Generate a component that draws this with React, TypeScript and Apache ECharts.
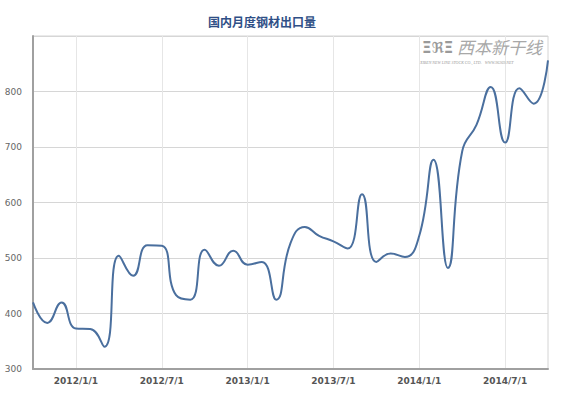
import React, { useEffect, useRef } from "react";
import * as echarts from "echarts";

const categories: string[] = [
  "2011/10/1", "2011/11/1", "2011/12/1",
  "2012/1/1", "2012/2/1", "2012/3/1", "2012/4/1", "2012/5/1", "2012/6/1",
  "2012/7/1", "2012/8/1", "2012/9/1", "2012/10/1", "2012/11/1", "2012/12/1",
  "2013/1/1", "2013/2/1", "2013/3/1", "2013/4/1", "2013/5/1", "2013/6/1",
  "2013/7/1", "2013/8/1", "2013/9/1", "2013/10/1", "2013/11/1", "2013/12/1",
  "2014/1/1", "2014/2/1", "2014/3/1", "2014/4/1", "2014/5/1", "2014/6/1",
  "2014/7/1", "2014/8/1", "2014/9/1", "2014/10/1",
];

const exportVolume: number[] = [
  420, 383, 420,
  373, 372, 340, 504, 468, 523,
  522, 433, 425, 515, 486, 513,
  488, 493, 425, 527, 556, 540,
  530, 517, 615, 493, 508, 502,
  540, 677, 482, 692, 740, 808,
  708, 806, 778, 856,
];

const titleText = "国内月度钢材出口量";
const yTicks = { min: 300, max: 900, interval: 100 };

export default function App() {
  const ref = useRef<HTMLDivElement>(null);
  useEffect(() => {
    if (!ref.current) return;
    const chart = echarts.init(ref.current, undefined, { renderer: "svg" });
    const showIdx = (i: number) => i >= 3 && (i - 3) % 6 === 0;
    chart.setOption({
      animation: false,
      backgroundColor: "#ffffff",
      title: {
        text: titleText,
        left: 203,
        top: 10,
        textStyle: { color: "#2f4f86", fontSize: 12, fontWeight: "bold", fontFamily: "Noto Sans CJK SC" },
      },
      grid: { left: 33, right: 16, top: 36, bottom: 24, show: true, borderColor: "#d4d4d4", borderWidth: 1 },
      graphic: [
        {
          type: "text",
          left: 422,
          top: 40,
          z: 1,
          style: { text: "ΞℜΞ", fill: "#9a9a9a", font: "bold 15px DejaVu Sans" },
        },
        {
          type: "text",
          left: 457,
          top: 38,
          z: 1,
          style: { text: "西本新干线", fill: "#a8a8a8", font: "italic 17px Noto Sans CJK SC" },
        },
        {
          type: "text",
          left: 420,
          top: 60,
          z: 1,
          style: { text: "XIBEN NEW LINE STOCK CO., LTD.   WWW.96369.NET", fill: "#9a9a9a", font: "italic 4px Liberation Serif" },
        },
      ],
      xAxis: {
        type: "category",
        data: categories,
        boundaryGap: false,
        axisLine: { show: true, lineStyle: { color: "#a0a0a0", width: 2 } },
        axisTick: { show: false },
        axisLabel: {
          interval: (i: number) => showIdx(i),
          color: "#555555",
          fontSize: 9,
          fontWeight: "bold",
          fontFamily: "DejaVu Sans",
          margin: 7,
        },
        splitLine: { show: true, interval: (i: number) => showIdx(i), lineStyle: { color: "#e6e6e6", width: 1 } },
      },
      yAxis: {
        type: "value",
        min: yTicks.min,
        max: yTicks.max,
        interval: yTicks.interval,
        axisLine: { show: true, lineStyle: { color: "#a0a0a0", width: 2 } },
        axisTick: { show: false },
        axisLabel: { showMaxLabel: false, color: "#666666", fontSize: 9, fontFamily: "DejaVu Sans", margin: 11 },
        splitLine: { show: true, lineStyle: { color: "#d6d6d6", width: 1 } },
      },
      series: [
        {
          type: "line",
          data: exportVolume,
          smooth: 0.5,
          symbol: "none",
          z: 3,
          lineStyle: { color: "#4a6f9e", width: 2 },
        },
      ],
    });
    return () => chart.dispose();
  }, []);
  return <div ref={ref} style={{ position: "fixed", left: 0, top: 0, width: 564, height: 393 }} />;
}
